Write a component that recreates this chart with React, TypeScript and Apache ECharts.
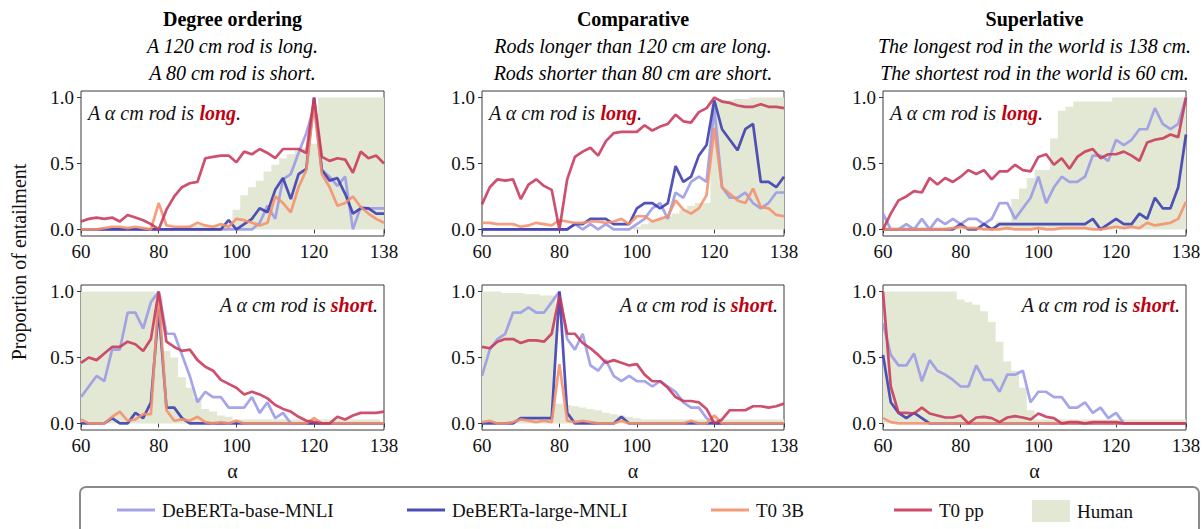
import React, { useEffect, useRef } from "react";
import * as echarts from "echarts";

const alphaValues = [60, 62, 64, 66, 68, 70, 72, 74, 76, 78, 80, 82, 84, 86, 88, 90, 92, 94, 96, 98, 100, 102, 104, 106, 108, 110, 112, 114, 116, 118, 120, 122, 124, 126, 128, 130, 132, 134, 136, 138];
const xTickValues = [60, 80, 100, 120, 138];
const yTickValues = [0, 0.5, 1];
const seriesNames = ["DeBERTa-base-MNLI", "DeBERTa-large-MNLI", "T0 3B", "T0 pp", "Human"];
const columnTitles = ["Degree ordering", "Comparative", "Superlative"];
const premiseLines = [
  ["A 120 cm rod is long.", "A 80 cm rod is short."],
  ["Rods longer than 120 cm are long.", "Rods shorter than 80 cm are short."],
  ["The longest rod in the world is 138 cm.", "The shortest rod in the world is 60 cm."],
];
const adjectives = ["long", "short"];
const yAxisTitle = "Proportion of entailment";
const xAxisTitle = "α";

// Degree ordering – long
const degLongBase = [0, 0, 0, 0, 0, 0, 0, 0, 0, 0, 0, 0, 0, 0, 0, 0, 0, 0, 0, 0, 0, 0, 0, 0.05, 0.18, 0.08, 0.38, 0.42, 0.58, 0.73, 0.93, 0.45, 0.4, 0.33, 0.4, 0, 0.17, 0.16, 0.16, 0.16];
const degLongLarge = [0, 0, 0, 0, 0, 0, 0, 0, 0, 0, 0, 0, 0, 0, 0, 0, 0, 0, 0, 0.07, 0, 0.04, 0.08, 0.16, 0.13, 0.3, 0.39, 0.23, 0.42, 0.46, 1.0, 0.45, 0.37, 0.39, 0.27, 0.12, 0.16, 0.16, 0.12, 0.12];
const degLongT03B = [0, 0, 0, 0.01, 0.02, 0.02, 0.01, 0.02, 0.01, 0, 0.2, 0.03, 0.02, 0.02, 0.02, 0.05, 0.03, 0.02, 0.04, 0.02, 0.08, 0.07, 0.05, 0.03, 0.05, 0.25, 0.2, 0.13, 0.32, 0.45, 0.95, 0.42, 0.32, 0.18, 0.2, 0.25, 0.17, 0.12, 0.08, 0.05];
const degLongT0pp = [0.06, 0.08, 0.09, 0.08, 0.09, 0.06, 0.11, 0.09, 0.07, 0.04, 0, 0.15, 0.25, 0.32, 0.35, 0.36, 0.54, 0.55, 0.56, 0.56, 0.51, 0.59, 0.57, 0.61, 0.58, 0.54, 0.61, 0.61, 0.61, 0.58, 1.0, 0.55, 0.52, 0.54, 0.53, 0.43, 0.59, 0.54, 0.56, 0.5];
const degLongHuman = [0, 0, 0, 0, 0, 0, 0, 0, 0, 0, 0, 0, 0, 0.02, 0.03, 0.03, 0.03, 0.03, 0.03, 0.04, 0.15, 0.26, 0.32, 0.37, 0.44, 0.49, 0.54, 0.57, 0.6, 0.62, 0.65, 1.0, 1.0, 1.0, 1.0, 1.0, 1.0, 1.0, 1.0, 1.0];

// Comparative – long
const compLongBase = [0, 0, 0, 0, 0, 0, 0, 0, 0, 0, 0, 0, 0.04, 0, 0.04, 0, 0.04, 0, 0, 0, 0.04, 0.08, 0.16, 0.2, 0.08, 0.28, 0.24, 0.36, 0.4, 0.36, 0.92, 0.32, 0.24, 0.24, 0.28, 0.2, 0.16, 0.2, 0.28, 0.28];
const compLongLarge = [0, 0, 0, 0, 0, 0, 0, 0, 0, 0, 0, 0, 0.04, 0.04, 0.08, 0.08, 0.08, 0.04, 0.04, 0.04, 0.16, 0.2, 0.2, 0.16, 0.2, 0.48, 0.36, 0.4, 0.56, 0.64, 0.98, 0.76, 0.68, 0.6, 0.76, 0.8, 0.36, 0.36, 0.32, 0.4];
const compLongT03B = [0.05, 0.05, 0.04, 0.04, 0.04, 0.02, 0.03, 0.05, 0.04, 0.03, 0.07, 0.06, 0.05, 0.05, 0.06, 0.06, 0.05, 0.06, 0.08, 0.04, 0.1, 0.1, 0.06, 0.08, 0.1, 0.22, 0.15, 0.12, 0.16, 0.26, 0.77, 0.32, 0.27, 0.22, 0.2, 0.31, 0.17, 0.16, 0.11, 0.1];
const compLongT0pp = [0.19, 0.32, 0.38, 0.37, 0.38, 0.23, 0.34, 0.38, 0.33, 0.3, 0, 0.38, 0.55, 0.59, 0.62, 0.56, 0.67, 0.73, 0.74, 0.74, 0.74, 0.79, 0.75, 0.78, 0.8, 0.87, 0.82, 0.81, 0.89, 0.92, 1.0, 0.97, 0.96, 0.94, 0.93, 0.93, 0.95, 0.93, 0.93, 0.92];
const compLongHuman = [0, 0, 0, 0, 0, 0, 0, 0, 0, 0, 0, 0, 0, 0, 0, 0, 0, 0, 0, 0, 0.02, 0.04, 0.06, 0.08, 0.1, 0.12, 0.15, 0.18, 0.2, 0.2, 0.97, 0.98, 0.98, 0.99, 0.99, 1.0, 1.0, 1.0, 1.0, 1.0];

// Superlative – long
const supLongBase = [0.12, 0, 0, 0.04, 0, 0.08, 0, 0.08, 0.04, 0.08, 0.04, 0.08, 0.08, 0.04, 0.08, 0.2, 0.2, 0.08, 0.16, 0.24, 0.4, 0.2, 0.32, 0.4, 0.36, 0.36, 0.4, 0.56, 0.56, 0.52, 0.68, 0.64, 0.68, 0.76, 0.76, 0.92, 0.8, 0.76, 0.8, 1.0];
const supLongLarge = [0, 0, 0, 0, 0, 0, 0, 0, 0, 0, 0.04, 0, 0, 0.04, 0, 0.04, 0.04, 0.04, 0.04, 0.04, 0.04, 0.04, 0.04, 0.04, 0.04, 0.04, 0.04, 0.08, 0, 0.04, 0.08, 0.04, 0.04, 0.12, 0.08, 0.24, 0.16, 0.16, 0.32, 0.72];
const supLongT03B = [0, 0, 0, 0, 0, 0, 0, 0, 0, 0.01, 0.02, 0.01, 0.01, 0, 0, 0, 0.01, 0, 0, 0, 0.01, 0, 0, 0.01, 0.01, 0.01, 0.01, 0, 0, 0.01, 0.02, 0.01, 0.02, 0.01, 0.05, 0.03, 0.04, 0.05, 0.08, 0.21];
const supLongT0pp = [0, 0.12, 0.22, 0.25, 0.29, 0.28, 0.39, 0.34, 0.39, 0.36, 0.4, 0.45, 0.42, 0.45, 0.38, 0.44, 0.44, 0.49, 0.45, 0.44, 0.55, 0.57, 0.49, 0.54, 0.46, 0.55, 0.59, 0.61, 0.54, 0.57, 0.57, 0.59, 0.56, 0.52, 0.66, 0.68, 0.69, 0.72, 0.7, 1.0];
const supLongHuman = [0.02, 0.02, 0.02, 0.02, 0.02, 0.02, 0.02, 0.02, 0.02, 0.02, 0.02, 0.02, 0.02, 0.02, 0.02, 0.06, 0.06, 0.23, 0.31, 0.39, 0.45, 0.45, 0.69, 0.9, 0.93, 0.97, 0.97, 0.97, 0.97, 0.97, 1.0, 1.0, 1.0, 1.0, 1.0, 1.0, 1.0, 1.0, 1.0, 1.0];

// Degree ordering – short
const degShortBase = [0.2, 0.28, 0.36, 0.32, 0.56, 0.56, 0.84, 0.84, 0.72, 0.92, 1.0, 0.68, 0.68, 0.52, 0.36, 0.16, 0.24, 0.2, 0.2, 0.12, 0.12, 0.12, 0.2, 0.08, 0.16, 0.04, 0.08, 0, 0, 0, 0, 0, 0, 0, 0, 0, 0, 0, 0, 0];
const degShortLarge = [0, 0, 0, 0, 0.04, 0, 0, 0.08, 0.04, 0.16, 0.87, 0.12, 0.12, 0.04, 0, 0, 0, 0, 0, 0, 0, 0, 0, 0, 0, 0, 0, 0, 0, 0, 0, 0, 0, 0, 0, 0, 0, 0, 0, 0];
const degShortT03B = [0.03, 0, 0, 0, 0.05, 0.09, 0.02, 0.03, 0.07, 0.07, 0.98, 0.1, 0.02, 0.03, 0.02, 0.05, 0.01, 0, 0.01, 0, 0.02, 0, 0, 0, 0, 0, 0, 0, 0, 0, 0.04, 0, 0, 0, 0, 0, 0, 0, 0, 0];
const degShortT0pp = [0.46, 0.5, 0.48, 0.53, 0.58, 0.58, 0.62, 0.6, 0.55, 0.64, 1.0, 0.62, 0.58, 0.55, 0.56, 0.48, 0.43, 0.4, 0.33, 0.3, 0.27, 0.22, 0.24, 0.22, 0.19, 0.14, 0.11, 0.09, 0.05, 0.02, 0.01, 0, 0, 0.05, 0.03, 0.06, 0.08, 0.08, 0.08, 0.09];
const degShortHuman = [1.0, 1.0, 1.0, 1.0, 1.0, 1.0, 1.0, 1.0, 1.0, 1.0, 0.97, 0.55, 0.5, 0.35, 0.27, 0.19, 0.11, 0.09, 0.06, 0.05, 0.03, 0.03, 0.03, 0.03, 0.03, 0.03, 0.03, 0.03, 0.03, 0.03, 0.03, 0.03, 0.03, 0.03, 0.03, 0.03, 0.03, 0.03, 0.03, 0];

// Comparative – short
const compShortBase = [0.36, 0.56, 0.64, 0.68, 0.84, 0.84, 0.88, 0.84, 0.84, 0.92, 1.0, 0.64, 0.56, 0.68, 0.44, 0.4, 0.48, 0.36, 0.32, 0.36, 0.32, 0.32, 0.28, 0.32, 0.28, 0.24, 0.16, 0.12, 0.12, 0.04, 0, 0, 0, 0, 0, 0, 0, 0, 0, 0];
const compShortLarge = [0, 0, 0, 0, 0, 0.04, 0.04, 0.04, 0.04, 0.04, 1.0, 0.08, 0, 0, 0, 0, 0, 0, 0.05, 0, 0, 0, 0, 0, 0, 0, 0, 0, 0, 0, 0, 0, 0, 0, 0, 0, 0, 0, 0, 0];
const compShortT03B = [0.01, 0.02, 0, 0, 0.01, 0.03, 0.02, 0.01, 0.02, 0.01, 0.45, 0.02, 0.01, 0.02, 0.01, 0, 0, 0, 0.02, 0, 0, 0, 0, 0, 0, 0, 0, 0.02, 0, 0, 0.06, 0, 0, 0, 0, 0, 0, 0, 0, 0];
const compShortT0pp = [0.58, 0.57, 0.62, 0.64, 0.64, 0.61, 0.63, 0.63, 0.62, 0.68, 0.97, 0.68, 0.68, 0.61, 0.57, 0.52, 0.46, 0.48, 0.46, 0.44, 0.45, 0.37, 0.32, 0.32, 0.27, 0.2, 0.17, 0.17, 0.16, 0.11, 0, 0.03, 0.1, 0.1, 0.1, 0.13, 0.13, 0.12, 0.13, 0.15];
const compShortHuman = [1.0, 1.0, 1.0, 0.99, 0.99, 0.99, 0.98, 0.98, 0.97, 0.97, 0.15, 0.14, 0.13, 0.12, 0.11, 0.1, 0.08, 0.07, 0.06, 0.05, 0.04, 0.03, 0.03, 0.03, 0.03, 0.03, 0.03, 0.03, 0.03, 0.03, 0.03, 0.03, 0.03, 0.03, 0.03, 0.03, 0.03, 0.03, 0.03, 0.03];

// Superlative – short
const supShortBase = [0.76, 0.52, 0.44, 0.44, 0.53, 0.32, 0.48, 0.4, 0.37, 0.33, 0.28, 0.28, 0.44, 0.33, 0.33, 0.24, 0.37, 0.37, 0.4, 0.16, 0.24, 0.24, 0.2, 0.2, 0.12, 0.12, 0.16, 0.08, 0.12, 0.04, 0.08, 0, 0, 0, 0, 0, 0, 0, 0, 0];
const supShortLarge = [0.52, 0.16, 0.08, 0.04, 0.08, 0.04, 0, 0, 0, 0, 0, 0, 0, 0, 0, 0, 0, 0, 0, 0, 0, 0, 0, 0, 0, 0, 0, 0, 0, 0, 0, 0, 0, 0, 0, 0, 0, 0, 0, 0];
const supShortT03B = [0.04, 0.01, 0, 0, 0, 0, 0, 0, 0, 0, 0, 0, 0, 0, 0, 0, 0, 0, 0, 0, 0, 0, 0, 0, 0, 0, 0, 0, 0, 0, 0, 0, 0, 0, 0, 0, 0, 0, 0, 0];
const supShortT0pp = [1.0, 0.28, 0.08, 0.08, 0.075, 0.12, 0.075, 0.06, 0.045, 0.045, 0.06, 0, 0.045, 0.05, 0.04, 0.01, 0.045, 0.055, 0.045, 0.03, 0.075, 0.05, 0.04, 0, 0.01, 0.01, 0, 0.01, 0.01, 0.01, 0.01, 0, 0, 0, 0, 0, 0, 0, 0, 0];
const supShortHuman = [1.0, 1.0, 1.0, 1.0, 1.0, 1.0, 1.0, 1.0, 1.0, 1.0, 0.94, 0.92, 0.9, 0.85, 0.77, 0.62, 0.47, 0.4, 0.27, 0.1, 0.03, 0.03, 0.03, 0.03, 0.03, 0.03, 0.03, 0.03, 0.03, 0.03, 0.03, 0.03, 0.03, 0.03, 0.03, 0.03, 0.03, 0.03, 0.03, 0.03];

const panels = [
  { base: degLongBase, large: degLongLarge, t03b: degLongT03B, t0pp: degLongT0pp, human: degLongHuman },
  { base: compLongBase, large: compLongLarge, t03b: compLongT03B, t0pp: compLongT0pp, human: compLongHuman },
  { base: supLongBase, large: supLongLarge, t03b: supLongT03B, t0pp: supLongT0pp, human: supLongHuman },
  { base: degShortBase, large: degShortLarge, t03b: degShortT03B, t0pp: degShortT0pp, human: degShortHuman },
  { base: compShortBase, large: compShortLarge, t03b: compShortT03B, t0pp: compShortT0pp, human: compShortHuman },
  { base: supShortBase, large: supShortLarge, t03b: supShortT03B, t0pp: supShortT0pp, human: supShortHuman },
];

const FONT = "'Liberation Serif', 'Times New Roman', serif";
const COLORS = {
  base: "#9a99e6",
  large: "#3a3aae",
  t03b: "#f58f6c",
  t0pp: "#c7385a",
  human: "#e2e8d4",
};
const RED_WORD = "#c00010";
const AXIS_COLOR = "#3a3a3a";

const GRID_LEFTS = [81, 482, 883];
const GRID_WIDTHS = [303, 302, 303];
const GRID_TOPS = [91, 285];
const GRID_HEIGHT = 145;

function buildOption() {
  const grids: any[] = [];
  const xAxes: any[] = [];
  const yAxes: any[] = [];
  const series: any[] = [];
  const graphics: any[] = [];

  const pair = (arr: number[]) => alphaValues.map((a, i) => [a, arr[i]]);

  panels.forEach((p, idx) => {
    const row = Math.floor(idx / 3);
    const col = idx % 3;
    grids.push({
      left: GRID_LEFTS[col],
      top: GRID_TOPS[row],
      width: GRID_WIDTHS[col],
      height: GRID_HEIGHT,
      show: true,
      borderColor: AXIS_COLOR,
      borderWidth: 1,
      backgroundColor: "transparent",
      containLabel: false,
    });
    xAxes.push({
      type: "value",
      gridIndex: idx,
      min: 60,
      max: 138,
      splitLine: { show: false },
      axisLine: { show: false },
      axisTick: {
        show: true,
        length: 4,
        lineStyle: { color: AXIS_COLOR },
        customValues: xTickValues,
      },
      axisLabel: {
        customValues: xTickValues,
        fontFamily: FONT,
        fontSize: 19,
        color: "#111",
        margin: 6,
        formatter: (v: number) => String(v),
      },
      name: row === 1 ? xAxisTitle : "",
      nameLocation: "middle",
      nameGap: 31,
      nameTextStyle: { fontFamily: FONT, fontSize: 20, color: "#111" },
    });
    yAxes.push({
      type: "value",
      gridIndex: idx,
      min: -0.05,
      max: 1.05,
      splitLine: { show: false },
      axisLine: { show: false },
      axisTick: {
        show: true,
        length: 4,
        lineStyle: { color: AXIS_COLOR },
        customValues: yTickValues,
      },
      axisLabel: {
        customValues: yTickValues,
        fontFamily: FONT,
        fontSize: 19,
        color: "#111",
        margin: 7,
        formatter: (v: number) => v.toFixed(1),
      },
    });

    series.push({
      name: seriesNames[4],
      type: "line",
      xAxisIndex: idx,
      yAxisIndex: idx,
      data: pair(p.human),
      step: "middle",
      symbol: "none",
      color: COLORS.human,
      lineStyle: { width: 0, color: COLORS.human },
      areaStyle: { color: COLORS.human, opacity: 1 },
      z: 1,
      silent: true,
    });
    const lineDefs: [string, number[], string][] = [
      [seriesNames[0], p.base, COLORS.base],
      [seriesNames[1], p.large, COLORS.large],
      [seriesNames[2], p.t03b, COLORS.t03b],
      [seriesNames[3], p.t0pp, COLORS.t0pp],
    ];
    lineDefs.forEach(([name, arr, color], k) => {
      series.push({
        name,
        type: "line",
        xAxisIndex: idx,
        yAxisIndex: idx,
        data: pair(arr),
        symbol: "none",
        showSymbol: false,
        color,
        lineStyle: { width: 2.7, color, opacity: 0.88 },
        z: 2 + k,
        silent: true,
      });
    });

    // annotation inside panel
    const adjective = adjectives[row];
    const left = GRID_LEFTS[col];
    const right = GRID_LEFTS[col] + GRID_WIDTHS[col];
    const top = GRID_TOPS[row];
    graphics.push({
      type: "text",
      x: row === 0 ? left + 7 : right - 6,
      y: top + (row === 0 ? 22 : 20),
      z: 50,
      style: {
        text: `{i|A α cm rod is }{b|${adjective}}{i|.}`,
        align: row === 0 ? "left" : "right",
        verticalAlign: "middle",
        rich: {
          i: { fontFamily: FONT, fontSize: 20, fontStyle: "italic", fill: "#111" },
          b: { fontFamily: FONT, fontSize: 20, fontStyle: "italic", fontWeight: "bold", fill: RED_WORD },
        },
      },
    });
  });

  // column titles
  columnTitles.forEach((t, col) => {
    const cx = GRID_LEFTS[col] + GRID_WIDTHS[col] / 2;
    graphics.push({
      type: "text",
      x: cx,
      y: 19,
      style: { text: t, align: "center", verticalAlign: "middle", fontFamily: FONT, fontSize: 20, fontWeight: "bold", fill: "#000" },
    });
    premiseLines[col].forEach((line, j) => {
      graphics.push({
        type: "text",
        x: cx,
        y: 46 + j * 27,
        style: { text: line, align: "center", verticalAlign: "middle", fontFamily: FONT, fontSize: 20, fontStyle: "italic", fill: "#000" },
      });
    });
  });

  // y-axis title
  graphics.push({
    type: "text",
    x: 19,
    y: 262,
    rotation: Math.PI / 2,
    style: { text: yAxisTitle, align: "center", verticalAlign: "middle", fontFamily: FONT, fontSize: 20, fill: "#111" },
  });

  // legend frame
  graphics.push({
    type: "rect",
    z: 0,
    shape: { x: 80, y: 487, width: 1119, height: 70, r: 6 },
    style: { fill: "#fff", stroke: "#8a8a8a", lineWidth: 2 },
  });

  const legendLefts = [112, 402, 706, 889, 1027];
  const lineColors = [COLORS.base, COLORS.large, COLORS.t03b, COLORS.t0pp];
  const legends = seriesNames.map((name, i) => ({
    show: true,
    left: legendLefts[i],
    top: i === 4 ? 495 : 494,
    orient: "horizontal",
    itemWidth: 38,
    itemHeight: i === 4 ? 22 : 3,
    itemGap: 10,
    selectedMode: false,
    z: 10,
    data:
      i === 4
        ? [{ name, icon: "rect", itemStyle: { color: COLORS.human } }]
        : [{ name, icon: "rect", itemStyle: { color: lineColors[i], opacity: 0.9 } }],
    textStyle: { fontFamily: FONT, fontSize: 19, color: "#111", padding: [0, 0, 0, 2], lineHeight: 22 },
  }));

  return {
    animation: false,
    backgroundColor: "#fff",
    grid: grids,
    xAxis: xAxes,
    yAxis: yAxes,
    series,
    legend: legends,
    graphic: { elements: graphics },
  };
}

export default function App() {
  const ref = useRef<HTMLDivElement | null>(null);
  useEffect(() => {
    if (!ref.current) return;
    const chart = echarts.init(ref.current, undefined, { renderer: "svg" });
    chart.setOption(buildOption() as any);
    return () => {
      chart.dispose();
    };
  }, []);
  return (
    <div
      ref={ref}
      style={{ position: "fixed", left: 0, top: 0, width: 1204, height: 529, background: "#fff" }}
    />
  );
}
